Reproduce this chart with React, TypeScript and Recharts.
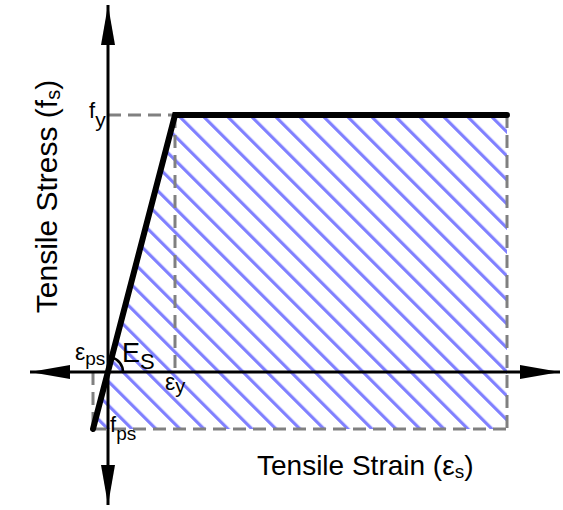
import React from 'react';
import { ComposedChart, XAxis, YAxis, Area, Line, Scatter, ReferenceLine } from 'recharts';

// ---- data (strain / stress in chart units; origin at axis intersection) ----
const strainKeys = ['εps', 'εy', 'εmax'];
const strainValues = [-15, 67, 399];
const stressValues = [-57, 257, 257];
const axisStrainRange = [-78, 452];
const axisStressRange = [-133, 367];

const epsPs = strainValues[0];
const epsY = strainValues[1];
const epsMax = strainValues[2];
const fps = stressValues[0];
const fy = stressValues[1];

const curve = strainKeys.map((k, i) => ({ key: k, x: strainValues[i], y: stressValues[i] }));

const arrowHeads = [
  { x: axisStrainRange[0], y: 0, dir: 'left' },
  { x: axisStrainRange[1], y: 0, dir: 'right' },
  { x: 0, y: axisStressRange[1], dir: 'up' },
  { x: 0, y: axisStressRange[0], dir: 'down' },
];

const labelAnchors = [
  { id: 'fy', x: 0, y: fy, main: 'f', sub: 'y' },
  { id: 'epsPs', x: 0, y: 0, main: 'ε', sub: 'ps' },
  { id: 'Es', x: 0, y: 0, main: 'E', sub: 'S' },
  { id: 'epsY', x: epsY, y: 0, main: 'ε', sub: 'y' },
  { id: 'fps', x: 0, y: fps, main: 'f', sub: 'ps' },
  { id: 'xTitle', x: 0, y: 0, main: 'Tensile Strain (ε', sub: 's', tail: ')' },
  { id: 'yTitle', x: 0, y: 0, main: 'Tensile Stress (f', sub: 's', tail: ')' },
];

const FONT = '"Liberation Sans", Arial, sans-serif';

const labelStyle: Record<string, any> = {
  fy: { dx: -19, dy: 3, size: 22, subSize: 21, subDy: 9 },
  epsPs: { dx: -33, dy: -12, size: 23, subSize: 19, subDy: 5 },
  Es: { dx: 14, dy: -10, size: 27, subSize: 22, subDy: 7 },
  epsY: { dx: -10, dy: 18, size: 23, subSize: 20, subDy: 3 },
  fps: { dx: 2, dy: 3, size: 22, subSize: 19, subDy: 8 },
  xTitle: { dx: 149, dy: 103, size: 28, subSize: 19, subDy: 3 },
  yTitle: { dx: -51, dy: -175.5, size: 30, subSize: 20, subDy: 3, rotate: true },
};

function LabelShape(props: any) {
  const { cx, cy, payload } = props;
  const s = labelStyle[payload.id];
  const x = cx + s.dx;
  const y = cy + s.dy;
  const transform = s.rotate ? `rotate(-90, ${x}, ${y})` : undefined;
  return (
    <text
      x={x}
      y={y}
      fontFamily={FONT}
      fontSize={s.size}
      fill="#000"
      textAnchor={s.rotate ? 'middle' : 'start'}
      transform={transform}
    >
      <tspan>{payload.main}</tspan>
      <tspan fontSize={s.subSize} dy={s.subDy}>{payload.sub}</tspan>
      {payload.tail ? <tspan dy={-s.subDy}>{payload.tail}</tspan> : null}
    </text>
  );
}

function ArrowShape(props: any) {
  const { cx, cy, payload } = props;
  const L = 40;
  const W = 7;
  let pts = '';
  if (payload.dir === 'left') pts = `${cx},${cy} ${cx + L},${cy - W} ${cx + L},${cy + W}`;
  if (payload.dir === 'right') pts = `${cx},${cy} ${cx - L},${cy - W} ${cx - L},${cy + W}`;
  if (payload.dir === 'up') pts = `${cx},${cy} ${cx - W},${cy + L} ${cx + W},${cy + L}`;
  if (payload.dir === 'down') pts = `${cx},${cy} ${cx - W},${cy - L} ${cx + W},${cy - L}`;
  return <polygon points={pts} fill="#000" />;
}

function ArcShape(props: any) {
  const { cx, cy } = props;
  const r = 15;
  const a = (75 * Math.PI) / 180;
  const d = `M ${cx + r} ${cy} A ${r} ${r} 0 0 0 ${cx + r * Math.cos(a)} ${cy - r * Math.sin(a)}`;
  return <path d={d} fill="none" stroke="#000" strokeWidth={2.5} />;
}

const dash = { stroke: '#808080', strokeWidth: 3, strokeDasharray: '13 7' };

export default function App() {
  return (
    <div style={{ position: 'absolute', left: 0, top: 0 }}>
      <ComposedChart width={563} height={510} margin={{ top: 0, right: 0, bottom: 0, left: 0 }}>
        <defs>
          <pattern
            id="hatch"
            patternUnits="userSpaceOnUse"
            width={10}
            height={16.97}
            patternTransform="rotate(45)"
          >
            <line x1={-1} y1={6.36} x2={11} y2={6.36} stroke="#8080ff" strokeWidth={3.2} />
          </pattern>
        </defs>
        <XAxis type="number" dataKey="x" domain={[-108, 455]} hide allowDataOverflow />
        <YAxis type="number" dataKey="y" domain={[-138, 372]} hide allowDataOverflow />
        <Area
          data={curve}
          dataKey="y"
          type="linear"
          baseValue={fps}
          fill="url(#hatch)"
          fillOpacity={1}
          stroke="none"
          isAnimationActive={false}
        />
        <ReferenceLine segment={[{ x: 0, y: fy }, { x: epsY, y: fy }]} {...dash} />
        <ReferenceLine segment={[{ x: epsY, y: fy }, { x: epsY, y: 0 }]} {...dash} />
        <ReferenceLine segment={[{ x: epsMax, y: fy }, { x: epsMax, y: fps }]} {...dash} />
        <ReferenceLine segment={[{ x: epsPs, y: fps }, { x: epsMax, y: fps }]} {...dash} />
        <ReferenceLine segment={[{ x: epsPs, y: 0 }, { x: epsPs, y: fps }]} {...dash} />
        <ReferenceLine
          segment={[{ x: axisStrainRange[0], y: 0 }, { x: axisStrainRange[1], y: 0 }]}
          stroke="#000"
          strokeWidth={3}
        />
        <ReferenceLine
          segment={[{ x: 0, y: axisStressRange[0] }, { x: 0, y: axisStressRange[1] }]}
          stroke="#000"
          strokeWidth={3}
        />
        <Line
          data={curve}
          dataKey="y"
          type="linear"
          stroke="#000"
          strokeWidth={6}
          strokeLinecap="round"
          dot={false}
          activeDot={false}
          isAnimationActive={false}
        />
        <Scatter data={arrowHeads} shape={ArrowShape} isAnimationActive={false} />
        <Scatter data={[{ x: 0, y: 0 }]} shape={ArcShape} isAnimationActive={false} />
        <Scatter data={labelAnchors} shape={LabelShape} isAnimationActive={false} />
      </ComposedChart>
    </div>
  );
}
